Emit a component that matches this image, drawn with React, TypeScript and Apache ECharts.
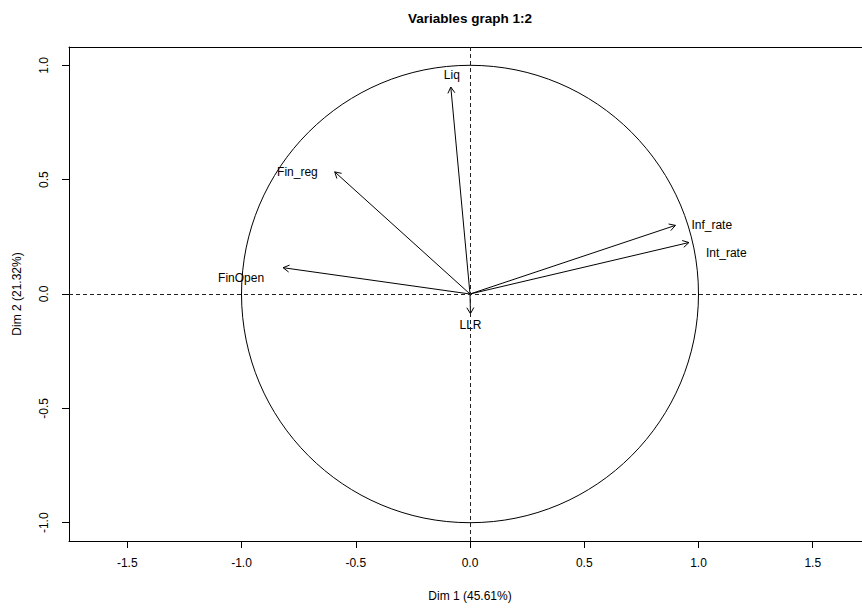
import React, { useEffect, useRef } from "react";
import * as echarts from "echarts";

const varNames = ["Liq", "Fin_reg", "FinOpen", "Inf_rate", "Int_rate", "LLR"];
const dim1 = [-0.084, -0.592, -0.818, 0.899, 0.958, 0.002];
const dim2 = [0.905, 0.534, 0.115, 0.3, 0.225, -0.086];
const xTicks = [-1.5, -1, -0.5, 0, 0.5, 1, 1.5];
const yTicks = [-1, -0.5, 0, 0.5, 1];
const circleCenter = [[0, 0, 1]];

const titleText = "Variables graph 1:2";
const xName = "Dim 1 (45.61%)";
const yName = "Dim 2 (21.32%)";

const labelPlacement = [
  { align: "center", dx: 1, dy: -12 },
  { align: "right", dx: -17, dy: 0 },
  { align: "right", dx: -19, dy: 10 },
  { align: "left", dx: 16, dy: 0 },
  { align: "left", dx: 17, dy: 10 },
  { align: "center", dx: 0, dy: 11 },
];

const FONT = "'Liberation Sans', Arial, Helvetica, sans-serif";

export default function App() {
  const ref = useRef<HTMLDivElement>(null);
  useEffect(() => {
    if (!ref.current) return;
    document.documentElement.style.overflow = "hidden";
    document.body.style.overflow = "hidden";
    document.body.style.margin = "0";
    const chart = echarts.init(ref.current, null, { renderer: "svg" });
    const option: any = {
      animation: false,
      backgroundColor: "#fff",
      textStyle: { fontFamily: FONT },
      grid: {
        left: 69,
        top: 47,
        width: 802,
        height: 494,
        show: false,
        containLabel: false,
      },
      graphic: [
        {
          type: "text",
          x: 470,
          y: 18,
          style: {
            text: titleText,
            align: "center",
            verticalAlign: "middle",
            fontFamily: FONT,
            fontWeight: "bold",
            fontSize: 13.5,
            fill: "#000",
          },
        },
      ],
      xAxis: [
        {
          type: "value",
          min: -1.755,
          max: 1.755,
          name: xName,
          nameLocation: "middle",
          nameGap: 49,
          nameTextStyle: { fontSize: 12, color: "#000", fontFamily: FONT, verticalAlign: "top" },
          axisLine: { show: true, onZero: false, lineStyle: { color: "#000", width: 1 } },
          axisTick: { show: true, length: 7, lineStyle: { color: "#000" }, customValues: xTicks },
          axisLabel: {
            show: true,
            margin: 16,
            fontSize: 12,
            color: "#000",
            fontFamily: FONT,
            customValues: xTicks,
            formatter: (v: number) => v.toFixed(1),
          },
          splitLine: { show: false },
        },
        {
          type: "value",
          position: "top",
          min: -1.755,
          max: 1.755,
          axisLine: { show: true, onZero: false, lineStyle: { color: "#000", width: 1 } },
          axisTick: { show: false },
          axisLabel: { show: false },
          splitLine: { show: false },
        },
      ],
      yAxis: {
        type: "value",
        min: -1.08,
        max: 1.08,
        name: yName,
        nameLocation: "middle",
        nameGap: 46,
        nameRotate: 90,
        nameTextStyle: { fontSize: 12, color: "#000", fontFamily: FONT },
        axisLine: { show: true, onZero: false, lineStyle: { color: "#000", width: 1 } },
        axisTick: { show: true, length: 7, lineStyle: { color: "#000" }, customValues: yTicks },
        axisLabel: {
          show: true,
          margin: 19,
          rotate: 90,
          fontSize: 12,
          color: "#000",
          fontFamily: FONT,
          customValues: yTicks,
          formatter: (v: number) => v.toFixed(1),
        },
        splitLine: { show: false },
      },
      series: [
        {
          type: "custom",
          silent: true,
          xAxisIndex: 0,
          data: circleCenter,
          renderItem: (params: any, api: any) => {
            const c = api.coord([api.value(0), api.value(1)]);
            const s = api.size([api.value(2), api.value(2)]);
            return {
              type: "ellipse",
              shape: { cx: c[0], cy: c[1], rx: s[0], ry: s[1] },
              style: { stroke: "#000", fill: "none", lineWidth: 1 },
            };
          },
          markLine: {
            silent: true,
            symbol: ["none", "none"],
            label: { show: false },
            lineStyle: { color: "#222", type: [4, 3], width: 1 },
            data: [{ yAxis: 0 }, { xAxis: 0 }],
          },
        },
        {
          type: "custom",
          silent: true,
          xAxisIndex: 0,
          data: dim1.map((x, i) => [x, dim2[i]]),
          renderItem: (params: any, api: any) => {
            const idx = params.dataIndex;
            const o = api.coord([0, 0]);
            const t = api.coord([api.value(0), api.value(1)]);
            const ang = Math.atan2(t[1] - o[1], t[0] - o[0]);
            const L = 7;
            const a = Math.PI / 6;
            const h1 = [t[0] - L * Math.cos(ang - a), t[1] - L * Math.sin(ang - a)];
            const h2 = [t[0] - L * Math.cos(ang + a), t[1] - L * Math.sin(ang + a)];
            const lp = labelPlacement[idx];
            return {
              type: "group",
              children: [
                {
                  type: "line",
                  shape: { x1: o[0], y1: o[1], x2: t[0], y2: t[1] },
                  style: { stroke: "#000", lineWidth: 1 },
                },
                {
                  type: "polyline",
                  shape: { points: [h1, t, h2] },
                  style: { stroke: "#000", fill: "none", lineWidth: 1 },
                },
                {
                  type: "text",
                  x: t[0] + lp.dx,
                  y: t[1] + lp.dy,
                  style: {
                    text: varNames[idx],
                    align: lp.align,
                    verticalAlign: "middle",
                    fontFamily: FONT,
                    fontSize: 12,
                    fill: "#000",
                  },
                },
              ],
            };
          },
        },
      ],
    };
    chart.setOption(option);
    return () => chart.dispose();
  }, []);
  return (
    <div
      ref={ref}
      style={{ position: "fixed", left: 0, top: 0, width: 940, height: 610, background: "#fff" }}
    />
  );
}
